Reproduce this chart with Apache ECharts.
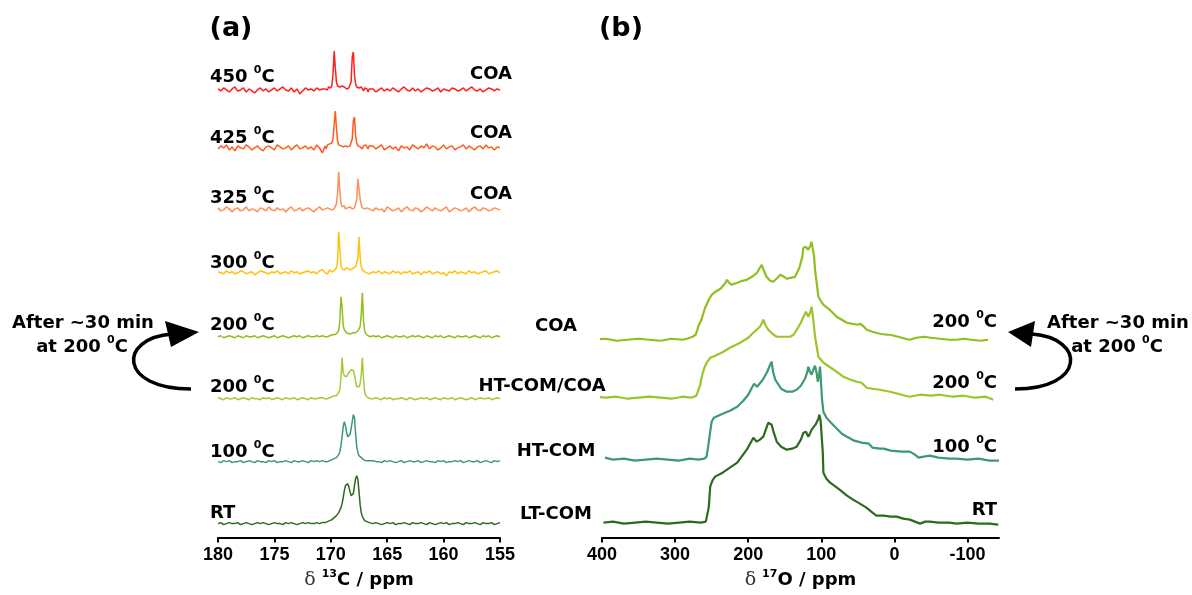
<!DOCTYPE html>
<html>
<head>
<meta charset="utf-8">
<script src="https://cdn.jsdelivr.net/npm/echarts@6.0.0/dist/echarts.min.js"></script>
<style>
  html, body { margin: 0; padding: 0; background: #fff; }
  #main { width: 1192px; height: 595px; }
</style>
</head>
<body>
<div id="main"></div>
<script>
// ---- panel (a): 13C spectra, shared ppm grid (coarse / fine around peaks / coarse)
const ppmA = [
  180,179.75,179.5,179.25,179,178.75,178.5,178.25,178,177.75,
  177.5,177.25,177,176.75,176.5,176.25,176,175.75,175.5,175.25,
  175,174.75,174.5,174.25,174,173.75,173.5,173.25,173,172.75,
  172.5,172.25,172,171.75,171.5,171.25,171,170.75,
  170.5,170.4,170.3,170.2,170.1,170,169.9,169.8,169.7,169.6,
  169.5,169.4,169.3,169.2,169.1,169,168.9,168.8,168.7,168.6,
  168.5,168.4,168.3,168.2,168.1,168,167.9,167.8,167.7,167.6,
  167.5,167.4,167.3,167.2,167.1,167,166.9,166.8,166.7,166.6,
  166.5,
  166.25,166,165.75,165.5,165.25,165,164.75,164.5,164.25,164,
  163.75,163.5,163.25,163,162.75,162.5,162.25,162,161.75,161.5,
  161.25,161,160.75,160.5,160.25,160,159.75,159.5,159.25,159,
  158.75,158.5,158.25,158,157.75,157.5,157.25,157,156.75,156.5,
  156.25,156,155.75,155.5,155.25,155
];

// intensities (a.u.), same order as ppmA
const c450 = [
  1,-1,2,0,-2, 1,3,-1,0,2, -2,1,-1,-3,0, 2,-1,1,-2,0, 2,-1,1,3,0, -1,2,-2,1,-4, -1,2,0,1,-1, 2,0,1,
  1,2,0,3,1, 2,5,16,39,22, 8,4,2,3,2, 4,5,3,2,1, 3,2,2,8,33, 38,15,6,3,1, 2,0,3,1,-1, 2,0,1,-2,1, 0,
  1,-2,0,2,-1, 1,-1,2,0,-2, 1,3,0,-1,2, -1,1,-2,0,2, 1,-1,0,2,-2, 1,0,-1,2,1, -1,0,2,-1,1, 3,0,-1,1,-2, 0,2,1,-1,1, 0
];
const c425 = [
  -1,2,0,3,-2, 1,-3,2,0,-1, 3,1,-2,0,2, -1,-3,1,2,0, -2,3,1,-1,0, 2,-2,1,3,-1, 0,2,-1,1,-2, 3,0,-5,
  2,-1,3,1,4, 2,5,9,24,37, 20,7,3,5,2, 4,1,3,2,4, 1,3,2,4,9, 27,31,12,5,2, 3,1,2,-1,2, 0,3,1,-1,2, 1,
  2,-1,1,3,-2, 0,2,-1,1,-3, 2,0,1,-2,3, 1,-1,2,0,4, -1,2,1,-2,0, 3,-1,1,2,-2, 0,1,3,-1,2, 0,-2,1,2,-1, 3,0,1,-2,1, 0
];
const c325 = [
  2,-1,0,3,1, -2,1,2,-1,0, 3,-1,1,0,-2, 2,1,-1,3,0, -1,2,0,1,-2, 1,3,-1,0,2, -1,1,2,0,-2, 1,3,0,
  1,-1,2,0,1, 3,0,2,1,3, 6,17,38,19,7, 3,2,4,1,3, 2,0,3,2,1, 3,2,4,10,31, 32,11,5,2,3, 1,-1,2,0,1, -1,
  -1,2,0,1,-2, 3,1,-1,0,2, -2,1,3,0,-1, 2,1,-2,0,3, 1,-1,2,0,-1, 1,3,-2,0,2, 1,-1,0,2,-2, 1,3,0,-1,2, 1,-1,0,2,1, 0
];
const c300 = [
  1,0,-1,2,0, 1,-1,0,2,1, -1,0,1,-2,0, 2,1,0,-1,1, 0,2,-1,0,1, -1,2,0,1,-1, 0,1,2,0,1, -1,2,3,
  0,2,-1,1,3, 2,1,3,2,4, 5,12,41,25,8, 4,5,3,4,5, 3,4,5,3,4, 5,4,6,7,14, 36,16,6,3,2, 1,2,0,1,-1, 1,
  1,0,2,-1,1, 0,-1,2,0,1, -1,1,0,2,-1, 0,1,-2,1,0, 2,-1,0,1,-1, 0,-3,1,0,2, -1,1,0,-1,2, 0,1,-1,0,1, 2,-1,0,1,2, 0
];
const c200coa = [
  0,1,-1,0,1, 0,-1,1,0,-1, 1,0,0,1,-1, 0,1,0,-1,0, 1,-1,0,1,0, -1,0,1,0,1, -1,0,1,0,0, 1,0,1,
  0,1,0,1,1, 1,2,1,2,2, 3,4,6,15,40, 30,11,7,5,4, 4,3,4,3,4, 4,5,4,5,6, 7,10,22,44,16, 6,3,2,1,1, 0,
  1,0,1,-1,0, 1,0,-1,1,0, 0,1,-1,0,1, 0,1,0,-1,1, 0,-1,1,0,1, -1,0,1,0,-1, 1,0,0,1,-1, 0,1,0,-1,1, 0,1,-1,0,1, 0
];
const c200ht = [
  1,0,-1,1,0, 0,1,-1,0,1, 0,-1,1,0,0, -1,1,0,1,-1, 0,1,0,-1,1, 0,0,1,-1,0, 1,0,-1,1,0, 0,1,1,
  0,1,0,1,1, 1,2,2,3,3, 3,4,6,9,20, 41,26,23,22,22, 24,26,28,29,29, 28,24,17,12,11, 12,15,24,41,20, 7,3,2,1,1, 0,
  0,1,0,-1,1, 0,1,-1,0,0, 1,0,-1,1,0, -1,0,1,0,1, -1,0,1,0,-1, 1,0,0,1,-1, 0,1,0,-1,0, 1,-1,0,1,0, 0,1,-1,0,1, 0
];
const c100 = [
  0,-1,1,0,1, -1,0,0,1,-1, 0,1,0,-1,1, 0,0,-1,1,0, 1,-1,0,0,1, 0,-1,1,0,0, 1,0,-1,1,0, 1,0,1,
  0,1,0,1,1, 1,2,2,3,3, 4,5,7,10,16, 25,35,40,36,29, 25,24,27,33,40, 47,44,28,15,9, 6,5,4,3,2, 2,1,1,1,0, 1,
  1,0,0,-1,1, 0,1,0,-1,0, 1,-1,0,1,0, 0,1,-1,0,1, 0,0,-1,1,0, 1,-1,0,0,1, 0,1,-1,0,1, 0,0,1,-1,0, 1,0,-1,1,0, 1
];
const cRT = [
  0,1,-1,0,1, 0,0,1,-1,0, 1,0,-1,0,1, 0,1,0,-1,0, 1,0,0,-1,1, 0,1,0,-1,0, 1,0,1,0,0, 1,0,1,
  1,1,2,2,3, 3,4,5,6,7, 8,10,11,13,16, 20,26,33,38,40, 40,37,32,28,27, 30,38,45,48,44, 32,19,11,7,5, 3,2,2,1,1, 0,
  0,1,0,-1,0, 1,0,1,-1,0, 0,1,0,-1,1, 0,0,1,0,-1, 1,0,-1,0,1, 0,1,-1,0,0, 1,0,-1,1,0, 0,1,0,-1,1, 0,0,1,-1,0, 1
];
const tempsA = ['450', '425', '325', '300', '200', '200', '100', 'RT'];
const phasesA = ['COA', 'COA', 'COA'];

// ---- panel (b): 17O spectra as [ppm, intensity]
const oCOA = [
  [412,0],[395,1],[380,-1],[365,0],[350,1],[335,0],[320,-1],[305,1],[290,0],[284,1],
  [276,3],[272,5],[270,9],[268,14],[264,20],[259,32],[257,35],[254,40],[250,45],[245,48],
  [238,51],[232,56],[229,60],[226,57],[223,55],[215,57],[208,59],[202,60],[195,63],[188,67],
  [184,72],[181.6,75],[178,68],[175,63],[170,59],[165.6,58],[160,62],[156,65],[154,66],[151,63],
  [147,61],[142,62],[136,63],[130,72],[126,83],[124.6,92],[121,93],[118,90],[115,94],[113.5,98],
  [111.8,100],[110,84],[108.6,70],[106,55],[104,43],[100,38],[97,35],[90,31],[79,23],[72,20],
  [65,17],[58,16],[50,15],[47,16],[43,14],[38,10],[30,8],[20,6],[10,5],[6,5],
  [-5,3],[-15,1],[-21,0],[-30,2],[-40,3],[-50,2],[-62,1],[-75,0],[-85,0],[-95,1],
  [-105,0],[-118,-1],[-128,0]
];
const oHT = [
  [407,1],[395,0],[380,1],[365,-1],[350,0],[335,1],[320,0],[305,-1],[290,1],[278,0],
  [271,2],[266,12],[263.6,21],[260,30],[256.8,35],[252,40],[245,42],[234,46],[225,50],[211,55],
  [200,60],[193,65],[187,69],[184,71],[181,75],[179.3,78],[176,72],[172.5,68],[167,64],[161,61],
  [152,61],[143,61],[138,63],[133.6,68],[128,75],[124.5,81],[121,86],[117.8,81],[115,86],[113.3,91],
  [111,78],[108.6,61],[104,41],[97,35],[85,29],[70,21],[60,18],[51.5,16],[45,15],[42.5,14],
  [38,10],[30,9],[20,8],[6,6],[-5,4],[-15,2],[-21,1],[-35,3],[-50,2],[-62,3],
  [-80,1],[-95,2],[-110,0],[-125,1],[-135,-2]
];
const o100 = [
  [396,2],[385,0],[370,1],[355,-1],[340,0],[325,1],[310,0],[295,-1],[280,1],[268,0],
  [260,1],[257,3],[254.6,14],[252,28],[250,38],[247,42],[245.4,44],[235,46],[225,49],[215,53],
  [206.7,59],[200,65],[195,72],[192,76],[190.7,76],[188,73],[186,73],[180,80],[174,88],[170,95],
  [168,98],[166,88],[163,80],[161,78],[155,71],[147.4,68],[140,68],[133.7,70],[128,74],[122.4,81],
  [119,88],[117.8,93],[115.5,88],[113.3,85],[110.5,91],[108.6,94],[106,85],[104.9,78],[103,85],[101.8,93],
  [100,72],[99,60],[97.2,48],[93,42],[88,38],[80,32],[72,26],[65,23],[55,19],[45,17],
  [35,16],[33,16],[30,12],[29,11],[20,11],[15,11],[5,9],[-10,8],[-21,8],[-28,5],
  [-33,2],[-40,3],[-48.7,4],[-60,2],[-75,1],[-85,1],[-100,0],[-115,1],[-130,-1],[-143,-1]
];
const oRT = [
  [398,0],[385,1],[370,-1],[355,0],[340,1],[325,0],[310,-1],[295,0],[280,1],[265,0],
  [258,1],[256.8,3],[254,15],[252,36],[249,42],[245.4,46],[235,50],[225,55],[215,60],[202,73],
  [196,81],[193,85],[190.5,83],[188.4,81],[184,83],[179.3,86],[175,95],[172.5,100],[170,99],[168,98],
  [165,90],[161,81],[155,76],[147.4,73],[140,74],[133.7,76],[128,83],[124.5,90],[121,91],[117.8,86],
  [115,90],[113.3,93],[108,98],[104,104],[102.7,108],[101,102],[99.5,100],[98,70],[97.2,50],[93,44],
  [88,40],[75,33],[65,27],[56.7,23],[45,18],[38.4,15],[30,10],[24.7,7],[15,7],[5,6],
  [-3,6],[-12,4],[-21,3],[-28,1],[-35,-1],[-42,1],[-48.7,1],[-60,0],[-75,0],[-85,-1],
  [-100,0],[-115,-1],[-130,-1],[-142,-2]
];
const phasesB = ['COA', 'HT-COM/COA', 'HT-COM', 'LT-COM'];
const tempsB = ['200', '200', '100', 'RT'];
const ticksB = [400, 300, 200, 100, 0, -100];

// ---- layout / styles
const tracesA = [c450, c425, c325, c300, c200coa, c200ht, c100, cRT];
const colorsA = ['#ff1f1f', '#ff5a1c', '#ff8e58', '#ffc10f', '#90bf1d', '#a6c93a', '#3c9a6e', '#2c6b1b'];
const baseA = [448, 390, 328, 265, 201, 139, 76, 14];
const tracesB = [oCOA, oHT, o100, oRT];
const colorsB = ['#90bf1d', '#9cc42b', '#3c9a6e', '#2c6b1b'];
const baseB = [198, 140, 78, 15];

const FONT = 'DejaVu Sans';
const rich = {
  n: { fontFamily: FONT, fontWeight: 'bold', fontSize: 18, lineHeight: 24, color: '#000' },
  s: { fontFamily: FONT, fontWeight: 'bold', fontSize: 11, verticalAlign: 'top', color: '#000' },
  d: { fontFamily: 'DejaVu Serif', fontSize: 19, lineHeight: 24, color: '#333' }
};
function temp(t) {
  return t === 'RT' ? '{n|RT}' : '{n|' + t + ' }{s|0}{n|C}';
}
function txt(text, x, y, align) {
  return {
    type: 'text', x: x, y: y, silent: true,
    style: {
      text: text, rich: rich, align: align, verticalAlign: 'middle',
      textAlign: align, textVerticalAlign: 'middle',
      font: 'bold 18px "' + FONT + '"', fill: '#000'
    }
  };
}

const series = [];
tracesA.forEach(function (vals, k) {
  series.push({
    type: 'line', xAxisIndex: 0, yAxisIndex: 0, symbol: 'none', silent: true,
    lineStyle: { color: colorsA[k], width: 1.5 },
    data: ppmA.map(function (p, i) { return [p, vals[i] + baseA[k]]; })
  });
});
tracesB.forEach(function (pts, k) {
  series.push({
    type: 'line', xAxisIndex: 1, yAxisIndex: 1, symbol: 'none', silent: true, clip: false,
    lineStyle: { color: colorsB[k], width: 2.2 },
    data: pts.map(function (d) { return [d[0], d[1] + baseB[k]]; })
  });
});

const axisCommon = {
  type: 'value', inverse: true,
  axisLine: { onZero: false, lineStyle: { color: '#000', width: 2 } },
  axisTick: { show: true, length: 5, lineStyle: { color: '#000', width: 2 } },
  axisLabel: { color: '#000', fontFamily: 'Liberation Sans', fontWeight: 'bold', fontSize: 18, margin: 8 },
  splitLine: { show: false },
  nameLocation: 'middle', nameGap: 28,
  nameTextStyle: { rich: rich }
};

// labels
const graphic = [];
const yA = [77, 138, 198, 263, 325, 387, 452, 513];
tempsA.forEach(function (t, k) { graphic.push(txt(temp(t), 210, yA[k], 'left')); });
const yCoa = [74, 133, 194];
phasesA.forEach(function (p, k) { graphic.push(txt('{n|' + p + '}', 512, yCoa[k], 'right')); });
const xB = [556, 542, 556, 556];
const yB = [326, 386, 451, 514];
phasesB.forEach(function (p, k) { graphic.push(txt('{n|' + p + '}', xB[k], yB[k], 'center')); });
const yBt = [322, 383, 447, 510];
tempsB.forEach(function (t, k) { graphic.push(txt(temp(t), 997, yBt[k], 'right')); });

graphic.push(
  { type: 'text', x: 231, y: 29, silent: true,
    style: { text: '(a)', font: 'bold 27px "' + FONT + '"', fill: '#000', align: 'center', verticalAlign: 'middle', textAlign: 'center', textVerticalAlign: 'middle' } },
  { type: 'text', x: 621, y: 29, silent: true,
    style: { text: '(b)', font: 'bold 27px "' + FONT + '"', fill: '#000', align: 'center', verticalAlign: 'middle', textAlign: 'center', textVerticalAlign: 'middle' } },
  txt('{n|After ~30 min}', 83, 323, 'center'),
  txt('{n|at 200 }{s|0}{n|C}', 82, 347, 'center'),
  txt('{n|After ~30 min}', 1118, 323, 'center'),
  txt('{n|at 200 }{s|0}{n|C}', 1117, 347, 'center'),
  // curved arrows
  { type: 'bezierCurve', silent: true,
    shape: { x1: 191, y1: 389, cpx1: 118, cpy1: 389, cpx2: 118, cpy2: 338, x2: 172, y2: 334 },
    style: { stroke: '#000', lineWidth: 3.5, fill: null } },
  { type: 'polygon', silent: true, shape: { points: [[199, 332], [165, 321], [171, 347]] }, style: { fill: '#000' } },
  { type: 'bezierCurve', silent: true,
    shape: { x1: 1015, y1: 389, cpx1: 1086, cpy1: 389, cpx2: 1086, cpy2: 338, x2: 1032, y2: 334 },
    style: { stroke: '#000', lineWidth: 3.5, fill: null } },
  { type: 'polygon', silent: true, shape: { points: [[1008, 332], [1035, 321], [1031, 347]] }, style: { fill: '#000' } }
);

const chart = echarts.init(document.getElementById('main'));
chart.setOption({
  backgroundColor: '#fff',
  animation: false,
  grid: [
    { left: 218, right: 692, top: 40, bottom: 57 },
    { left: 602, right: 193, top: 40, bottom: 57 }
  ],
  xAxis: [
    Object.assign({}, axisCommon, {
      gridIndex: 0, min: 155, max: 180, interval: 5,
      name: '{d|δ }{s|13}{n|C / ppm}'
    }),
    Object.assign({}, axisCommon, {
      gridIndex: 1, min: -143, max: 400,
      axisTick: Object.assign({}, axisCommon.axisTick, { customValues: ticksB }),
      axisLabel: Object.assign({}, axisCommon.axisLabel, { customValues: ticksB }),
      name: '{d|δ }{s|17}{n|O / ppm}'
    })
  ],
  yAxis: [
    { type: 'value', gridIndex: 0, min: 0, max: 498, show: false },
    { type: 'value', gridIndex: 1, min: 0, max: 498, show: false }
  ],
  series: series,
  graphic: graphic
});
</script>
</body>
</html>
